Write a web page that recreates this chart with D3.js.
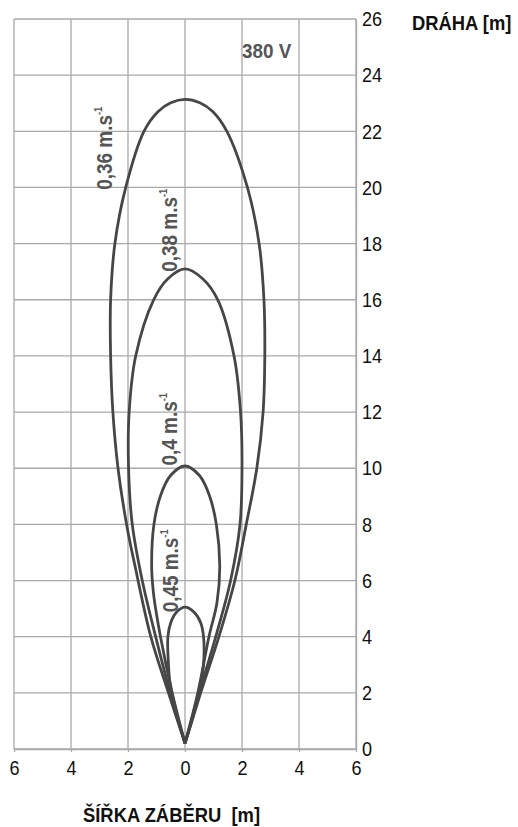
<!DOCTYPE html>
<html>
<head>
<meta charset="utf-8">
<script src="https://cdn.jsdelivr.net/npm/d3@7"></script>
<style>
  html, body { margin: 0; padding: 0; background: #fff; }
  svg { display: block; }
  text { font-family: "Liberation Sans", Arial, sans-serif; }
</style>
</head>
<body>
<svg id="chart" width="518" height="827"></svg>
<script>
// Axis ticks
const xTicks = [-6, -4, -2, 0, 2, 4, 6];
const yTicks = [0, 2, 4, 6, 8, 10, 12, 14, 16, 18, 20, 22, 24, 26];

// Coverage outlines [width (m), distance (m)], traced from the tip round the lobe
const lobe036 = [
  [0, 0.2], [-0.58, 2], [-1.2, 4], [-1.75, 6.5], [-2.05, 8], [-2.35, 10], [-2.53, 12],
  [-2.61, 14], [-2.61, 16], [-2.46, 18], [-2.08, 20], [-1.44, 22], [-0.95, 22.7],
  [-0.5, 23.02], [0, 23.14], [0.52, 23.02], [0.98, 22.7],
  [1.47, 22], [2.19, 20], [2.6, 18], [2.77, 16], [2.8, 14], [2.74, 12],
  [2.52, 10], [2.15, 8], [1.75, 6], [1.19, 4], [0.55, 2], [0, 0.2]
];
const lobe038 = [
  [0, 0.2], [-0.52, 2], [-1.03, 4], [-1.5, 6], [-1.85, 8], [-1.98, 10], [-1.96, 12],
  [-1.73, 14], [-1.1, 16], [-0.6, 16.75], [0, 17.1], [0.62, 16.75], [1.15, 16],
  [1.72, 14], [1.95, 12], [2.0, 10], [1.93, 8], [1.6, 6], [1.08, 4], [0.5, 2], [0, 0.2]
];
const lobe040 = [
  [0, 0.2], [-0.45, 2], [-0.86, 4], [-1.1, 5.5], [-1.17, 6.5], [-1.09, 8], [-0.85, 9.05],
  [-0.5, 9.75], [0, 10.08], [0.5, 9.75], [0.85, 9.05], [1.1, 8], [1.22, 6.5], [1.12, 5.2],
  [0.84, 4], [0.45, 2], [0, 0.2]
];
const lobe045 = [
  [0, 0.2], [-0.3, 1.3], [-0.52, 2.3], [-0.58, 3], [-0.6, 4], [-0.5, 4.5], [-0.3, 4.87],
  [0, 5.05], [0.32, 4.87], [0.55, 4.5], [0.65, 4], [0.65, 3], [0.55, 2.3], [0.32, 1.3], [0, 0.2]
];

// Lobe labels: speed text and where the rotated label starts [width, distance]
const speedLabels = ["0,36 m.s", "0,38 m.s", "0,4 m.s", "0,45 m.s"];
const labelAnchors = [[-2.56, 19.92], [-0.28, 17.0], [-0.28, 10.1], [-0.24, 4.87]];
const lobes = [lobe036, lobe038, lobe040, lobe045];

const svg = d3.select("#chart");
const x = d3.scaleLinear().domain([-6, 6]).range([14, 356]);
const y = d3.scaleLinear().domain([0, 26]).range([749, 19]);

const gridColor = "#a9a9a9";
const curveColor = "#464646";
const squeeze = "scale(0.86,1)";

// Grid
const grid = svg.append("g").attr("stroke", gridColor).attr("stroke-width", 1.3);
grid.selectAll("line.v").data(xTicks).join("line")
  .attr("x1", d => x(d)).attr("x2", d => x(d))
  .attr("y1", y(26)).attr("y2", y(0));
grid.selectAll("line.h").data(yTicks).join("line")
  .attr("x1", x(-6)).attr("x2", x(6))
  .attr("y1", d => y(d)).attr("y2", d => y(d));

// Bottom axis (width of coverage, both sides positive)
const xAxis = svg.append("g")
  .attr("transform", `translate(0,${y(0)})`)
  .call(d3.axisBottom(x).tickValues(xTicks).tickSize(3).tickSizeOuter(0).tickPadding(8)
    .tickFormat(d => Math.abs(d)));
xAxis.attr("font-family", null);
xAxis.select(".domain").attr("stroke", gridColor).attr("stroke-width", 1.3);
xAxis.selectAll(".tick line").attr("stroke", gridColor).attr("stroke-width", 1.3);
xAxis.selectAll("text")
  .attr("font-size", 21).attr("fill", "#111")
  .attr("transform", squeeze);

// Right axis (distance)
const yAxis = svg.append("g")
  .attr("transform", `translate(${x(6)},0)`)
  .call(d3.axisRight(y).tickValues(yTicks).tickSize(0).tickSizeOuter(0).tickPadding(7));
yAxis.attr("font-family", null);
yAxis.select(".domain").attr("stroke", gridColor).attr("stroke-width", 1.3);
yAxis.selectAll("text")
  .attr("font-size", 21).attr("fill", "#111")
  .attr("transform", squeeze);

// Lobes
const line = d3.line().x(d => x(d[0])).y(d => y(d[1])).curve(d3.curveCatmullRom.alpha(0.5));
svg.append("g").selectAll("path").data(lobes).join("path")
  .attr("d", line)
  .attr("fill", "none")
  .attr("stroke", curveColor)
  .attr("stroke-width", 2.8)
  .attr("stroke-linejoin", "miter");

// Speed labels, written upwards
const lbl = svg.append("g").selectAll("text").data(speedLabels).join("text")
  .attr("transform", (d, i) =>
    `translate(${x(labelAnchors[i][0])},${y(labelAnchors[i][1])}) rotate(-90) ${squeeze}`)
  .attr("font-size", 22).attr("font-weight", "bold").attr("fill", "#555");
lbl.append("tspan").text(d => d);
lbl.append("tspan").attr("font-size", 11).attr("dy", -10).text("-1");

// Voltage
svg.append("text")
  .attr("transform", `translate(${x(2.0)},${y(24.62)}) scale(0.9,1)`)
  .attr("font-size", 21).attr("font-weight", "bold").attr("fill", "#555")
  .text("380 V");

// Axis titles
svg.append("text")
  .attr("transform", "translate(412,30) scale(0.92,1)")
  .attr("font-size", 20).attr("font-weight", "bold").attr("fill", "#111")
  .text("DRÁHA [m]");
svg.append("text")
  .attr("transform", "translate(83,822) scale(0.92,1)")
  .attr("font-size", 20).attr("font-weight", "bold").attr("fill", "#111")
  .text("ŠÍŘKA ZÁBĚRU\u00A0 [m]");
</script>
</body>
</html>
